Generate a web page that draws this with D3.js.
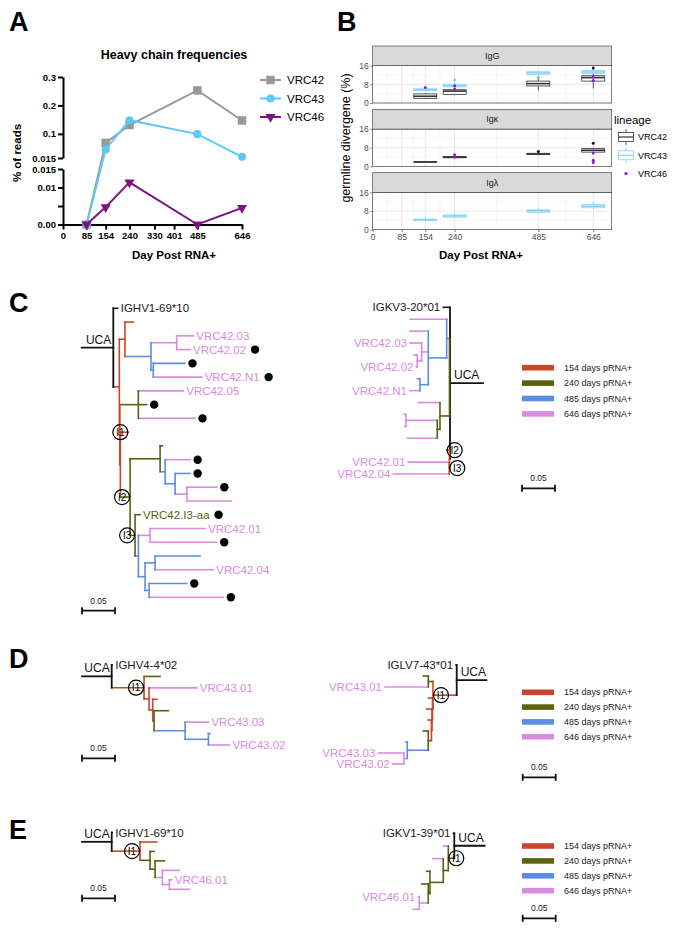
<!DOCTYPE html>
<html>
<head>
<meta charset="utf-8">
<script src="https://cdn.jsdelivr.net/npm/d3@7"></script>
<style>
  body { margin: 0; background: #fff; }
  svg { font-family: "Liberation Sans", Arial, sans-serif; }
</style>
</head>
<body>
<svg id="fig" width="673" height="936"></svg>
<script>
// ---------- panel A data: heavy chain read frequencies
const daysA = [85, 154, 240, 485, 646];
const freqVRC42 = [0, 0.068, 0.131, 0.253, 0.147];
const freqVRC43 = [0, 0.045, 0.148, 0.099, 0.019];
const freqVRC46 = [0, 0.0047, 0.0114, 0, 0.0045];
const seriesA = ["VRC42", "VRC43", "VRC46"];
const xTicksA = [0, 85, 154, 240, 330, 401, 485, 646];
const yTicksTop = [0.015, 0.1, 0.2, 0.3];
const yTicksBot = [0, 0.005, 0.01, 0.015];

// ---------- panel B data: germline divergence
const facetsB = ["IgG", "Igκ", "Igλ"];
const lineagesB = ["VRC42", "VRC43", "VRC46"];
const xTicksB = [0, 85, 154, 240, 485, 646];
const yTicksB = [0, 8, 16];
// facet, lineage, day, lower whisker, q1, median, q3, upper whisker
const boxStatsB = [
  ["IgG", "VRC42", 154, 1.7, 2.0, 2.9, 3.9, 4.3],
  ["IgG", "VRC43", 154, 5.2, 5.4, 5.7, 6.1, 6.3],
  ["IgG", "VRC42", 240, 3.3, 3.7, 5.1, 5.7, 6.4],
  ["IgG", "VRC43", 240, 6.4, 6.9, 7.4, 8.1, 8.9],
  ["IgG", "VRC42", 485, 5.4, 7.3, 8.3, 9.4, 10.7],
  ["IgG", "VRC43", 485, 11.7, 12.3, 12.9, 13.4, 14.0],
  ["IgG", "VRC42", 646, 6.3, 9.4, 10.9, 11.7, 12.9],
  ["IgG", "VRC43", 646, 12.3, 12.7, 13.3, 13.9, 14.4],
  ["Igκ", "VRC42", 154, 1.7, 1.8, 1.9, 2.0, 2.1],
  ["Igκ", "VRC42", 240, 3.5, 3.7, 3.9, 4.2, 4.4],
  ["Igκ", "VRC42", 485, 4.9, 5.1, 5.3, 5.6, 5.8],
  ["Igκ", "VRC42", 646, 5.6, 6.1, 6.9, 7.6, 8.0],
  ["Igλ", "VRC43", 154, 3.9, 4.0, 4.3, 4.5, 5.6],
  ["Igλ", "VRC43", 240, 5.2, 5.4, 5.9, 6.3, 7.4],
  ["Igλ", "VRC43", 485, 7.1, 7.5, 8.1, 8.5, 9.4],
  ["Igλ", "VRC43", 646, 8.9, 9.4, 10.1, 10.9, 11.9]
];
// facet, lineage, day, divergence
const pointsB = [
  ["IgG", "VRC46", 154, 6.7],
  ["IgG", "VRC43", 240, 9.9],
  ["IgG", "VRC46", 240, 7.4],
  ["IgG", "VRC46", 240, 6.0],
  ["IgG", "VRC43", 485, 11.0],
  ["IgG", "VRC42", 646, 15.0],
  ["IgG", "VRC46", 646, 11.1],
  ["IgG", "VRC46", 646, 9.6],
  ["Igκ", "VRC46", 240, 5.0],
  ["Igκ", "VRC46", 240, 4.0],
  ["Igκ", "VRC42", 485, 6.4],
  ["Igκ", "VRC42", 646, 9.9],
  ["Igκ", "VRC46", 646, 5.7],
  ["Igκ", "VRC46", 646, 2.6],
  ["Igκ", "VRC46", 646, 1.6]
];

// ---------- trees: id, parent, branch length, day sampled, label, dot
const treeVRC42H = [
  ["R", "", 0, "uca"],
  ["germ", "R", 0.0067, "uca", "IGHV1-69*10"],
  ["t1", "R", 0.0091, 154],
  ["a", "t1", 0.0086, 154],
  ["a1", "a", 0.0126, 154],
  ["b", "a", 0.0394, 485],
  ["c1", "b", 0.0389, 646],
  ["VRC42.03", "c1", 0.0252, 646, "VRC42.03"],
  ["VRC42.02", "c1", 0.0202, 646, "VRC42.02", 1],
  ["c2", "b", 0.0035, 485],
  ["b1", "c2", 0.0480, 485, "", 1],
  ["VRC42.N1", "c2", 0.0733, 646, "VRC42.N1", 1],
  ["t2", "t1", 0.0008, 154],
  ["g", "t2", 0.0280, 240],
  ["VRC42.05", "g", 0.0682, 646, "VRC42.05"],
  ["g1", "g", 0.0127, 240, "", 1],
  ["g2", "g", 0.0859, 646, "", 1],
  ["t3", "t2", 0.0008, 154],
  ["i1", "t3", 0.0121, 154],
  ["h", "t3", 0.0147, 240],
  ["j", "h", 0.0455, 240],
  ["j1", "j", 0.0035, 240],
  ["l", "j", 0.0076, 485],
  ["l1", "l", 0.0379, 646, "", 1],
  ["m", "l", 0.0152, 485],
  ["m1", "m", 0.0227, 485, "", 1],
  ["n", "m", 0.0177, 646],
  ["n1", "n", 0.0455, 646, "", 1],
  ["n2", "n", 0.0671, 646],
  ["k", "h", 0.0076, 240],
  ["VRC42.I3-aa", "k", 0.0076, 240, "VRC42.I3-aa", 1],
  ["p", "k", 0.0050, 485],
  ["q", "p", 0.0177, 646],
  ["VRC42.01", "q", 0.0833, 646, "VRC42.01"],
  ["q1", "q", 0.1010, 646, "", 1],
  ["r2", "p", 0.0101, 485],
  ["s", "r2", 0.0152, 485],
  ["s1", "s", 0.0682, 485],
  ["VRC42.04", "s", 0.0883, 646, "VRC42.04"],
  ["u", "r2", 0.0061, 485],
  ["u1", "u", 0.0571, 485, "", 1],
  ["u2", "u", 0.1126, 646, "", 1]
];
const treeVRC42L = [
  ["R", "", 0, "uca"],
  ["germ", "R", 0.0102, "uca", "IGKV3-20*01"],
  ["gt", "R", 0.0008, 240],
  ["b1", "gt", 0.0042, 485],
  ["p0", "b1", 0.0556, 646],
  ["p1n", "b1", 0.0279, 485],
  ["p1", "p1n", 0.0277, 646],
  ["p2n", "p1n", 0.0100, 646],
  ["VRC42.03", "p2n", 0.0177, 646, "VRC42.03"],
  ["p3n", "p2n", 0.0067, 646],
  ["p3", "p3n", 0.0050, 646],
  ["VRC42.02", "p3n", 0.0012, 646, "VRC42.02"],
  ["p4n", "p1n", 0.0126, 485],
  ["p4", "p4n", 0.0038, 485],
  ["VRC42.N1", "p4n", 0.0152, 646, "VRC42.N1"],
  ["g2", "gt", 0.0144, 240],
  ["g0", "g2", 0.0329, 646],
  ["g3", "g2", 0.0041, 240],
  ["q", "g3", 0.0474, 646],
  ["q1", "q", 0.0030, 646],
  ["q2", "q", 0.0023, 646],
  ["g4", "g3", 0.0455, 646],
  ["t2", "R", 0.0008, 154],
  ["t21", "t2", 0.0042, 154],
  ["t3", "t2", 0.0003, 154],
  ["VRC42.01", "t3", 0.0621, 646, "VRC42.01"],
  ["VRC42.04", "t3", 0.0848, 646, "VRC42.04"]
];
const treeVRC43H = [
  ["R", "", 0, "uca"],
  ["germ", "R", 0.0008, "uca", "IGHV4-4*02"],
  ["t1", "R", 0.0490, 154],
  ["g1", "t1", 0.0242, 240],
  ["t2", "t1", 0.0076, 154],
  ["VRC43.01", "t2", 0.0723, 646, "VRC43.01"],
  ["t3", "t2", 0.0056, 154],
  ["r1", "t3", 0.0061, 154],
  ["t4", "t3", 0.0020, 240],
  ["g2", "t4", 0.0217, 240],
  ["b", "t4", 0.0470, 485],
  ["VRC43.03", "b", 0.0353, 646, "VRC43.03"],
  ["bb", "b", 0.0353, 485],
  ["b1", "bb", 0.0026, 485],
  ["VRC43.02", "bb", 0.0318, 646, "VRC43.02"]
];
const treeVRC43L = [
  ["R", "", 0, "uca"],
  ["germ", "R", 0.0010, "uca", "IGLV7-43*01"],
  ["t1", "R", 0.0359, 154],
  ["g1n", "t1", 0.0071, 240],
  ["g1", "g1n", 0.0076, 240],
  ["VRC43.01", "g1n", 0.0656, 646, "VRC43.01"],
  ["t2", "t1", 0.0008, 154],
  ["r1", "t2", 0.0061, 154],
  ["t3", "t2", 0.0008, 154],
  ["r2", "t3", 0.0080, 154],
  ["t4", "t3", 0.0008, 154],
  ["r3", "t4", 0.0053, 154],
  ["g2n", "t4", 0.0048, 240],
  ["g2", "g2n", 0.0076, 240],
  ["bn", "g2n", 0.0318, 485],
  ["b1", "bn", 0.0020, 485],
  ["pn", "bn", 0.0050, 646],
  ["VRC43.03", "pn", 0.0389, 646, "VRC43.03"],
  ["VRC43.02", "pn", 0.0171, 646, "VRC43.02"]
];
const treeVRC46H = [
  ["R", "", 0, "uca"],
  ["germ", "R", 0.0008, "uca", "IGHV1-69*10"],
  ["t1", "R", 0.0429, 154],
  ["r1", "t1", 0.0253, 154],
  ["g1n", "t1", 0.0152, 240],
  ["g1", "g1n", 0.0061, 240],
  ["g2n", "g1n", 0.0076, 240],
  ["g2", "g2n", 0.0141, 240],
  ["p1n", "g2n", 0.0111, 646],
  ["p1", "p1n", 0.0253, 646],
  ["p2n", "p1n", 0.0106, 646],
  ["VRC46.01", "p2n", 0.0036, 646, "VRC46.01"],
  ["p2", "p2n", 0.0303, 646]
];
const treeVRC46L = [
  ["R", "", 0, "uca"],
  ["germ", "R", 0.0012, "uca", "IGKV1-39*01"],
  ["t1", "R", 0.0091, 240],
  ["p0", "t1", 0.0076, 646],
  ["t2", "t1", 0.0076, 240],
  ["p1", "t2", 0.0160, 646],
  ["t3", "t2", 0.0202, 240],
  ["g1", "t3", 0.0050, 240],
  ["t4", "t3", 0.0026, 240],
  ["g2", "t4", 0.0100, 240],
  ["pn", "t4", 0.0136, 646],
  ["VRC46.01", "pn", 0.0015, 646, "VRC46.01"],
  ["p2", "pn", 0.0091, 646]
];
const ucaStem = [0.048, 0.050, 0.045, 0.045, 0.045, 0.046];
const intermediates = [
  [["I1", "i1"], ["I2", "h"], ["I3", "k"]],
  [["I2", "t21"], ["I3", "t3"]],
  [["I1", "t1"]],
  [["I1", "t1"]],
  [["I1", "t1"]],
  [["I1", "t1"]]
];
const legendDays = [154, 240, 485, 646];

// ---------- drawing
const svg = d3.select("#fig");
const dayColor = { uca: "#1a1a1a", 154: "#c9462d", 240: "#58620f", 485: "#5b8ee2", 646: "#d98be0" };

function panelLabel(t, x, y) {
  svg.append("text").attr("x", x).attr("y", y).text(t)
    .attr("font-size", 27).attr("font-weight", "bold");
}
panelLabel("A", 9, 31);
panelLabel("B", 337, 31);
panelLabel("C", 9, 312);
panelLabel("D", 9, 668);
panelLabel("E", 9, 839);

// ===== Panel A
const gA = svg.append("g");
const xA = d3.scaleLinear().domain([0, 646]).range([63, 242]);
const yTop = d3.scaleLinear().domain([0.015, 0.3]).range([158, 77]);
const yBot = d3.scaleLinear().domain([0, 0.015]).range([224.5, 169]);
const yA = v => v > 0.015 ? yTop(v) : yBot(v);

function styleAxisA(g) {
  g.attr("font-family", null);
  g.selectAll("path, line").attr("stroke", "#000").attr("stroke-width", 2);
  g.selectAll("text").attr("font-size", 9.5).attr("font-weight", "bold").attr("fill", "#000");
}
gA.append("g").attr("transform", "translate(63,0)")
  .call(d3.axisLeft(yTop).tickValues(yTicksTop).tickSize(5).tickPadding(2).tickSizeOuter(0)
    .tickFormat(d => d === 0.015 ? "0.015" : d3.format(".1f")(d)))
  .call(styleAxisA);
gA.append("g").attr("transform", "translate(63,0)")
  .call(d3.axisLeft(yBot).tickValues(yTicksBot).tickSize(5).tickPadding(2).tickSizeOuter(0)
    .tickFormat(d => d === 0 ? "0.00" : d === 0.005 ? "" : d === 0.01 ? "0.01" : "0.015"))
  .call(styleAxisA);
gA.append("g").attr("transform", "translate(0,224.5)")
  .call(d3.axisBottom(xA).tickValues(xTicksA).tickSize(5).tickPadding(3).tickSizeOuter(0))
  .call(styleAxisA);

gA.append("text").attr("x", 174).attr("y", 59).attr("text-anchor", "middle")
  .attr("font-size", 12.5).attr("font-weight", "bold").text("Heavy chain frequencies");
gA.append("text").attr("x", 174).attr("y", 259).attr("text-anchor", "middle")
  .attr("font-size", 11.5).attr("font-weight", "bold").text("Day Post RNA+");
gA.append("text").attr("transform", "translate(21,153) rotate(-90)").attr("text-anchor", "middle")
  .attr("font-size", 11.5).attr("font-weight", "bold").text("% of reads");

const colA = { VRC42: "#999999", VRC43: "#5ec9f6", VRC46: "#7e1282" };
const symA = {
  VRC42: d3.symbol(d3.symbolSquare, 72)(),
  VRC43: d3.symbol(d3.symbolCircle, 52)(),
  VRC46: d3.symbol(d3.symbolTriangle, 44)()
};
const rotA = { VRC42: 0, VRC43: 0, VRC46: 180 };
const valuesA = { VRC42: freqVRC42, VRC43: freqVRC43, VRC46: freqVRC46 };
const lineA = d3.line().x(d => xA(d[0])).y(d => yA(d[1]));

seriesA.forEach(s => {
  const pts = daysA.map((d, i) => [d, valuesA[s][i]]);
  gA.append("path").attr("d", lineA(pts)).attr("fill", "none")
    .attr("stroke", colA[s]).attr("stroke-width", 2);
  gA.selectAll(null).data(pts).join("path")
    .attr("d", symA[s]).attr("fill", colA[s])
    .attr("transform", d => `translate(${xA(d[0])},${yA(d[1])}) rotate(${rotA[s]})`);
});
seriesA.forEach((s, i) => {
  const y = 80 + i * 18.5;
  gA.append("line").attr("x1", 260).attr("x2", 281).attr("y1", y).attr("y2", y)
    .attr("stroke", colA[s]).attr("stroke-width", 2);
  gA.append("path").attr("d", symA[s]).attr("fill", colA[s])
    .attr("transform", `translate(270.5,${y}) rotate(${rotA[s]})`);
  gA.append("text").attr("x", 287).attr("y", y + 4).attr("font-size", 11.5).text(s);
});

// ===== Panel B
const gB = svg.append("g");
const xB = d3.scaleLinear().domain([0, 700]).range([372.7, 611.7]);
const boxW = 23;
const colB = { VRC42: "#333333", VRC43: "#80d4f8", VRC46: "#8a16e0" };
const ptB = { VRC42: "#111111", VRC43: "#6ccdf7", VRC46: "#8a16e0" };
const minorX = d3.pairs(xTicksB).map(p => (p[0] + p[1]) / 2);

facetsB.forEach((f, i) => {
  const top = 46 + i * 63.35, pTop = top + 19.7, pBot = pTop + 37.3;
  const yB = d3.scaleLinear().domain([0, 16]).range([pBot, pTop]);
  const g = gB.append("g");
  g.append("rect").attr("x", xB(0)).attr("y", pTop).attr("width", xB(700) - xB(0))
    .attr("height", pBot - pTop).attr("fill", "#fff");
  g.selectAll(null).data([4, 12]).join("line")
    .attr("x1", xB(0)).attr("x2", xB(700)).attr("y1", d => yB(d)).attr("y2", d => yB(d))
    .attr("stroke", "#f2f2f2").attr("stroke-width", 0.6);
  g.selectAll(null).data(minorX).join("line")
    .attr("x1", d => xB(d)).attr("x2", d => xB(d)).attr("y1", pTop).attr("y2", pBot)
    .attr("stroke", "#f2f2f2").attr("stroke-width", 0.6);
  g.selectAll(null).data(yTicksB).join("line")
    .attr("x1", xB(0)).attr("x2", xB(700)).attr("y1", d => yB(d)).attr("y2", d => yB(d))
    .attr("stroke", "#e8e8e8").attr("stroke-width", 1);
  g.selectAll(null).data(xTicksB).join("line")
    .attr("x1", d => xB(d)).attr("x2", d => xB(d)).attr("y1", pTop).attr("y2", pBot)
    .attr("stroke", "#e8e8e8").attr("stroke-width", 1);

  // boxes
  boxStatsB.filter(b => b[0] === f).forEach(b => {
    const cx = xB(b[2]), c = colB[b[1]];
    g.append("line").attr("x1", cx).attr("x2", cx).attr("y1", yB(b[3])).attr("y2", yB(b[4]))
      .attr("stroke", c).attr("stroke-width", 0.8);
    g.append("line").attr("x1", cx).attr("x2", cx).attr("y1", yB(b[6])).attr("y2", yB(b[7]))
      .attr("stroke", c).attr("stroke-width", 0.8);
    g.append("rect").attr("x", cx - boxW / 2).attr("width", boxW)
      .attr("y", yB(b[6])).attr("height", yB(b[4]) - yB(b[6]))
      .attr("fill", "#fff").attr("fill-opacity", 0.6).attr("stroke", c).attr("stroke-width", 0.8);
    g.append("line").attr("x1", cx - boxW / 2).attr("x2", cx + boxW / 2)
      .attr("y1", yB(b[5])).attr("y2", yB(b[5])).attr("stroke", c).attr("stroke-width", 1.6);
  });
  g.selectAll(null).data(pointsB.filter(p => p[0] === f)).join("circle")
    .attr("cx", d => xB(d[2])).attr("cy", d => yB(d[3])).attr("r", 1.5)
    .attr("fill", d => ptB[d[1]]);

  g.append("rect").attr("x", xB(0)).attr("y", pTop).attr("width", xB(700) - xB(0))
    .attr("height", pBot - pTop).attr("fill", "none").attr("stroke", "#333").attr("stroke-width", 0.6);
  // strip
  g.append("rect").attr("x", xB(0)).attr("y", top).attr("width", xB(700) - xB(0))
    .attr("height", pTop - top).attr("fill", "#d9d9d9").attr("stroke", "#333").attr("stroke-width", 0.6);
  g.append("text").attr("x", (xB(0) + xB(700)) / 2).attr("y", (top + pTop) / 2 + 3)
    .attr("text-anchor", "middle").attr("font-size", 9).attr("fill", "#1a1a1a").text(f);

  const ya = g.append("g").attr("transform", `translate(${xB(0)},0)`)
    .call(d3.axisLeft(yB).tickValues(yTicksB).tickSize(2.5).tickPadding(1.5).tickSizeOuter(0));
  ya.attr("font-family", null);
  ya.select(".domain").remove();
  ya.selectAll("line").attr("stroke", "#333").attr("stroke-width", 0.6);
  ya.selectAll("text").attr("font-size", 8.5).attr("fill", "#4d4d4d");

  if (i === facetsB.length - 1) {
    const xa = g.append("g").attr("transform", `translate(0,${pBot})`)
      .call(d3.axisBottom(xB).tickValues(xTicksB).tickSize(2.5).tickPadding(1.5).tickSizeOuter(0));
    xa.attr("font-family", null);
    xa.select(".domain").remove();
    xa.selectAll("line").attr("stroke", "#333").attr("stroke-width", 0.6);
    xa.selectAll("text").attr("font-size", 8.5).attr("fill", "#4d4d4d");
  }
});
gB.append("text").attr("x", 481).attr("y", 259).attr("text-anchor", "middle")
  .attr("font-size", 11.5).attr("font-weight", "bold").text("Day Post RNA+");
gB.append("text").attr("transform", "translate(350,138) rotate(-90)").attr("text-anchor", "middle")
  .attr("font-size", 12.5).text("germline divergene (%)");

gB.append("text").attr("x", 614).attr("y", 124).attr("font-size", 11.5).text("lineage");
lineagesB.forEach((l, i) => {
  const cy = 137 + i * 18.3;
  if (l !== "VRC46") {
    gB.append("line").attr("x1", 626).attr("x2", 626).attr("y1", cy - 8).attr("y2", cy + 8)
      .attr("stroke", colB[l]).attr("stroke-width", 0.8);
    gB.append("rect").attr("x", 618.5).attr("y", cy - 4.5).attr("width", 15).attr("height", 9)
      .attr("fill", "#fff").attr("stroke", colB[l]).attr("stroke-width", 0.8);
    gB.append("line").attr("x1", 618.5).attr("x2", 633.5).attr("y1", cy).attr("y2", cy)
      .attr("stroke", colB[l]).attr("stroke-width", 1.2);
  } else {
    gB.append("circle").attr("cx", 626).attr("cy", cy).attr("r", 1.6).attr("fill", ptB[l]);
  }
  gB.append("text").attr("x", 638).attr("y", cy + 3.2).attr("font-size", 9).text(l);
});

// ===== Trees
const xsTree = d3.scaleLinear().domain([0, 0.05]).range([0, 33]);
const treeLayouts = [
  { edges: treeVRC42H, x: 113.3, dir: 1, top: 308.3, bottom: 597.3 },
  { edges: treeVRC42L, x: 450, dir: -1, top: 307.3, bottom: 474 },
  { edges: treeVRC43H, x: 111.7, dir: 1, top: 665, bottom: 745 },
  { edges: treeVRC43L, x: 456.7, dir: -1, top: 665, bottom: 764 },
  { edges: treeVRC46H, x: 111.7, dir: 1, top: 832.5, bottom: 889.3 },
  { edges: treeVRC46L, x: 454.3, dir: -1, top: 833.3, bottom: 909.3 }
];

function drawTree(t, k) {
  const root = d3.stratify().id(d => d[0]).parentId(d => d[1])(t.edges);
  root.eachBefore(n => { n.dist = n.parent ? n.parent.dist + n.data[2] : 0; });
  const leaves = root.leaves();
  const yRow = d3.scaleLinear().domain([0, leaves.length - 1]).range([t.top, t.bottom]);
  leaves.forEach((n, i) => { n.py = yRow(i); });
  root.eachAfter(n => {
    if (n.children) n.py = (n.children[0].py + n.children[n.children.length - 1].py) / 2;
  });
  const px = n => t.x + t.dir * xsTree(n.dist);
  const col = n => dayColor[n.data[3]];
  const g = svg.append("g").attr("stroke-linecap", "square");

  // UCA stem
  const stemEnd = t.x - t.dir * xsTree(ucaStem[k]);
  g.append("line").attr("x1", stemEnd).attr("x2", t.x).attr("y1", root.py).attr("y2", root.py)
    .attr("stroke", "#111").attr("stroke-width", 1.8);
  g.append("text").attr("x", t.dir > 0 ? t.x - 2 : t.x + 4).attr("y", root.py - 4)
    .attr("text-anchor", t.dir > 0 ? "end" : "start").attr("font-size", 12).attr("fill", "#111")
    .text("UCA");

  const nodes = root.descendants();
  g.selectAll(null).data(nodes.slice(1)).join("line")
    .attr("x1", d => px(d.parent)).attr("x2", d => px(d)).attr("y1", d => d.py).attr("y2", d => d.py)
    .attr("stroke", col).attr("stroke-width", 1.6);
  g.selectAll(null).data(nodes.filter(n => n.children)).join("line")
    .attr("x1", d => px(d)).attr("x2", d => px(d))
    .attr("y1", d => d.children[0].py).attr("y2", d => d.children[d.children.length - 1].py)
    .attr("stroke", d => d.parent ? col(d) : "#111").attr("stroke-width", d => d.parent ? 1.6 : 1.8);

  // labels and dots
  leaves.forEach(n => {
    const lab = n.data[4];
    let end = px(n);
    if (lab) {
      const tx = g.append("text").attr("x", px(n) + t.dir * 3).attr("y", n.py).attr("dy", "0.35em")
        .attr("text-anchor", t.dir > 0 ? "start" : "end").attr("font-size", 11.5)
        .attr("fill", col(n)).text(lab);
      end = px(n) + t.dir * (3 + tx.node().getComputedTextLength());
    }
    if (n.data[5]) {
      g.append("circle").attr("cx", end + t.dir * (lab ? 9 : 7.5)).attr("cy", n.py)
        .attr("r", 4.2).attr("fill", "#000");
    }
  });

  // intermediate markers
  intermediates[k].forEach(m => {
    const n = root.find(d => d.id === m[1]);
    const cx = px(n) - t.dir * 8;
    g.append("circle").attr("cx", cx).attr("cy", n.py).attr("r", 7.5)
      .attr("fill", "none").attr("stroke", "#000").attr("stroke-width", 1.2);
    g.append("text").attr("x", cx).attr("y", n.py).attr("dy", "0.36em").attr("text-anchor", "middle")
      .attr("font-size", 10).attr("fill", "#000").text(m[0]);
  });
}
treeLayouts.forEach(drawTree);

function drawScaleBar(x, y) {
  const w = xsTree(0.05);
  const g = svg.append("g").attr("stroke", "#111").attr("stroke-width", 1.8);
  g.append("line").attr("x1", x).attr("x2", x + w).attr("y1", y).attr("y2", y);
  g.append("line").attr("x1", x).attr("x2", x).attr("y1", y - 3.5).attr("y2", y + 3.5);
  g.append("line").attr("x1", x + w).attr("x2", x + w).attr("y1", y - 3.5).attr("y2", y + 3.5);
  svg.append("text").attr("x", x + w / 2).attr("y", y - 7).attr("text-anchor", "middle")
    .attr("font-size", 8.5).attr("fill", "#222").text("0.05");
}
drawScaleBar(82, 610.7);
drawScaleBar(522, 488.3);
drawScaleBar(82, 758.3);
drawScaleBar(522.7, 777.3);
drawScaleBar(82, 898.3);
drawScaleBar(522.7, 918.3);

function drawLegend(y0, gap) {
  const g = svg.append("g");
  legendDays.forEach((d, i) => {
    const y = y0 + i * gap;
    g.append("rect").attr("x", 522).attr("y", y - 2.8).attr("width", 32).attr("height", 5.6)
      .attr("fill", dayColor[d]);
    g.append("text").attr("x", 564).attr("y", y + 3).attr("font-size", 9).attr("fill", "#222")
      .text(`${d} days pRNA+`);
  });
}
drawLegend(367.7, 15.4);
drawLegend(692.3, 14.8);
drawLegend(846, 14.9);
</script>
</body>
</html>
